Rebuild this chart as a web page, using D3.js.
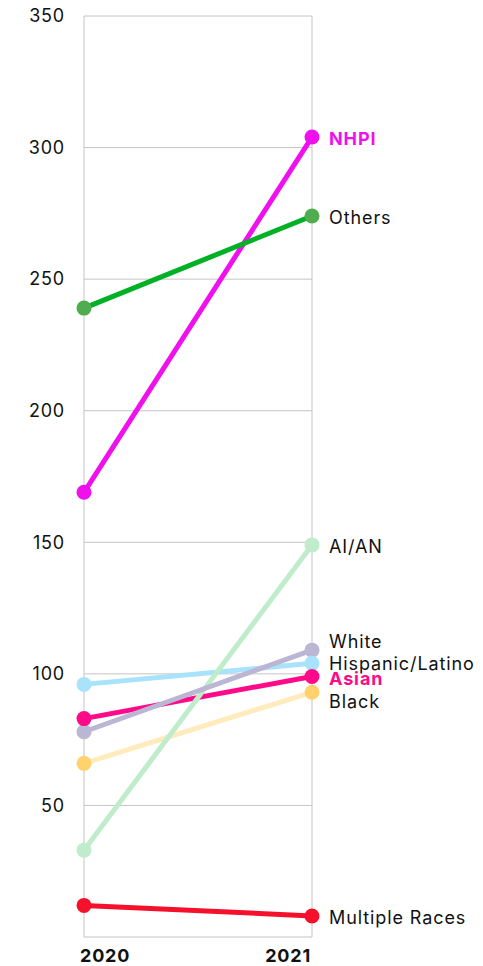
<!DOCTYPE html>
<html>
<head>
<meta charset="utf-8">
<script src="https://cdn.jsdelivr.net/npm/d3@7"></script>
<style>
  html, body { margin: 0; padding: 0; background: #fff; }
  svg { display: block; font-family: "Inter", "Open Sans", sans-serif; }
</style>
</head>
<body>
<svg id="chart" width="483" height="966"></svg>
<script>
// Years on the x axis
const years = ["2020", "2021"];
// Group names, in drawing order
const groups = ["NHPI", "Black", "Asian", "Hispanic/Latino", "AI/AN", "White", "Multiple Races", "Others"];
// Rates for 2020 and 2021
const values2020 = [169, 66, 83, 96, 33, 78, 12, 239];
const values2021 = [304, 93, 99, 104, 149, 109, 8, 274];
// Line and dot colours
const lineColors = ["#f010ee", "#ffebbc", "#ff0a88", "#a9e2fb", "#bfecca", "#bab6d3", "#f5102c", "#00b125"];
const dotColors  = ["#f010ee", "#ffd26e", "#ff0a88", "#a9e2fb", "#bfecca", "#bab6d3", "#f5102c", "#4fad4f"];
// Label text colours and weights
const labelColors  = ["#f010ee", "#111", "#ff0a88", "#111", "#111", "#111", "#111", "#111"];
const labelWeights = [700, 400, 700, 400, 400, 400, 400, 400];
// Y axis ticks
const yTicks = [50, 100, 150, 200, 250, 300, 350];

const svg = d3.select("#chart");
const margin = { left: 84, right: 171, top: 16, bottom: 29 };
const W = 483, H = 966;

const x = d3.scalePoint().domain(years).range([margin.left, W - margin.right]);
const y = d3.scaleLinear().domain([0, 350]).range([H - margin.bottom, margin.top]);

const x0 = x(years[0]), x1 = x(years[1]);

// Grid lines
svg.append("g")
  .selectAll("line")
  .data(yTicks)
  .join("line")
  .attr("x1", x0).attr("x2", x1)
  .attr("y1", d => y(d)).attr("y2", d => y(d))
  .attr("stroke", "#c4c4c4").attr("stroke-width", 1);

// Frame: vertical lines at both years and baseline
svg.append("g")
  .selectAll("line")
  .data(years)
  .join("line")
  .attr("x1", d => x(d)).attr("x2", d => x(d))
  .attr("y1", y(350)).attr("y2", y(0))
  .attr("stroke", "#c4c4c4").attr("stroke-width", 1);
svg.append("line")
  .attr("x1", x0).attr("x2", x1)
  .attr("y1", y(0)).attr("y2", y(0))
  .attr("stroke", "#c4c4c4").attr("stroke-width", 1);

// Y axis labels
const yAxis = d3.axisLeft(y).tickValues(yTicks).tickSize(0).tickPadding(19);
const gy = svg.append("g").attr("transform", `translate(${x0},0)`).call(yAxis);
gy.select(".domain").remove();
gy.selectAll("text")
  .attr("font-size", 18)
  .attr("letter-spacing", 0.8)
  .attr("fill", "#111")
  .attr("font-family", "Inter, 'Open Sans', sans-serif");

// Year labels
svg.append("g")
  .selectAll("text")
  .data(years)
  .join("text")
  .attr("x", (d, i) => i === 0 ? x(d) - 4 : x(d) - 1)
  .attr("y", H - 4)
  .attr("text-anchor", (d, i) => i === 0 ? "start" : "end")
  .attr("font-size", 18)
  .attr("letter-spacing", 0.8)
  .attr("font-weight", 700)
  .attr("fill", "#111")
  .text(d => d);

const rows = groups.map((g, i) => ({
  name: g, v: [values2020[i], values2021[i]],
  line: lineColors[i], dot: dotColors[i],
  lc: labelColors[i], lw: labelWeights[i]
}));

// Slope lines
svg.append("g")
  .selectAll("line")
  .data(rows)
  .join("line")
  .attr("x1", x0).attr("y1", d => y(d.v[0]))
  .attr("x2", x1).attr("y2", d => y(d.v[1]))
  .attr("stroke", d => d.line)
  .attr("stroke-width", 5)
  .attr("stroke-linecap", "round");

// Dots (drawn in an order that keeps overlapping ones stacked)
const dotOrder = ["Multiple Races", "AI/AN", "Black", "White", "Hispanic/Latino", "Asian", "Others", "NHPI"];
const dotRows = dotOrder.map(n => rows.find(r => r.name === n));
const dg = svg.append("g");
dotRows.forEach(r => {
  r.v.forEach((v, j) => {
    dg.append("circle")
      .attr("cx", x(years[j]))
      .attr("cy", y(v))
      .attr("r", 7.5)
      .attr("fill", r.dot);
  });
});

// End labels, nudged apart where lines end close together
const labelOffsets = { "White": -10, "Hispanic/Latino": -2, "Asian": 0, "Black": 7 };
svg.append("g")
  .selectAll("text")
  .data(rows)
  .join("text")
  .attr("x", x1 + 17)
  .attr("y", d => y(d.v[1]) + 2 + (labelOffsets[d.name] || 0))
  .attr("dy", "0.35em")
  .attr("font-size", 18)
  .attr("letter-spacing", 0.9)
  .attr("font-weight", d => d.lw)
  .attr("fill", d => d.lc)
  .text(d => d.name);
</script>
</body>
</html>
